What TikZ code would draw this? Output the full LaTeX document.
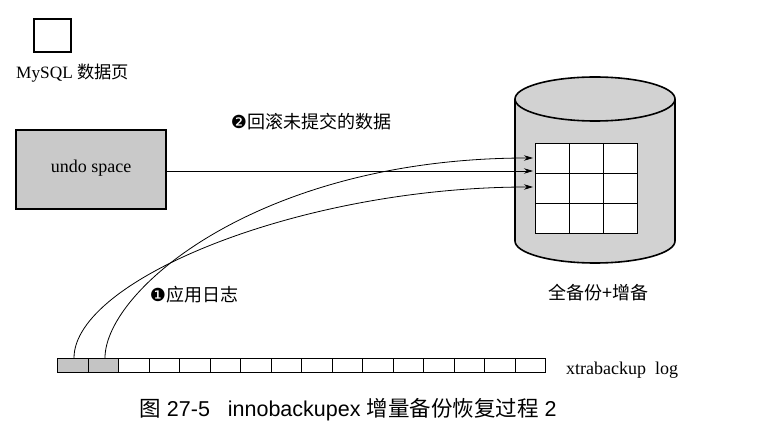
\documentclass[tikz,border=0pt]{standalone}
\usepackage{fontspec}
\setmainfont{Liberation Serif}
\newfontfamily\cjk{Noto Sans CJK SC}
\newfontfamily\sym{DejaVu Sans}
\newfontfamily\capfont{Liberation Sans}
\usetikzlibrary{arrows.meta}
\definecolor{boxgray}{HTML}{C9C9C9}
\definecolor{cylgray}{HTML}{D2D2D2}
\definecolor{cellgray}{HTML}{C4C4C4}
\tikzset{
  lbl/.style={inner sep=0pt, font=\fontsize{18}{20}\selectfont},
  flow/.style={line width=0.8pt, -{Stealth[length=9pt,width=5.5pt]}},
  logcell/.style={draw, line width=1.1pt, minimum width=30.5pt, minimum height=14pt, inner sep=0pt, anchor=north west},
  gcell/.style={draw, line width=0.9pt, fill=white, minimum width=34pt, minimum height=30pt, inner sep=0pt, anchor=north west},
}
\begin{document}
\begin{tikzpicture}[x=1pt,y=-1pt]
\useasboundingbox (0,0) rectangle (759,438);
% legend square
\node[draw, line width=1.5pt, minimum width=37pt, minimum height=33pt, inner sep=0pt] (page) at (52.5,35.5) {};
\node[lbl, anchor=west, font=\fontsize{17.3}{19}\selectfont] (pagelbl) at (16,73) {MySQL {\cjk 数据页}};
% undo space
\node[draw, line width=2pt, fill=boxgray, minimum width=150pt, minimum height=79pt, inner sep=0pt] (undo) at (91,169.5) {};
\node[lbl] (undotxt) at (91,168) {undo space};
% cylinder
\path[fill=cylgray] (515,99) -- (515,241) arc[start angle=180,end angle=360,x radius=80pt,y radius=22pt] -- (675,99) -- cycle;
\draw[line width=1.6pt] (515,99) -- (515,241) arc[start angle=180,end angle=360,x radius=80pt,y radius=22pt] -- (675,99);
\draw[line width=1.6pt, fill=cylgray] (595,99) ellipse[x radius=80pt, y radius=22pt];
% grid
\foreach \r in {0,1,2}{
  \foreach \c in {0,1,2}{
    \node[gcell] (g\r\c) at ({535+34*\c},{143+30*\r}) {};
  }
}
\node[lbl] (cyllbl) at (598,293) {\cjk 全备份+增备};
% log bar
\foreach \i in {0,...,15}{
  \ifnum\i<2
    \node[logcell, fill=cellgray] (l\i) at ({57+30.5*\i},358) {};
  \else
    \node[logcell] (l\i) at ({57+30.5*\i},358) {};
  \fi
}
\node[lbl, anchor=west] (loglbl) at (566,370) {xtrabackup\ \ log};
% connectors
\coordinate (tA) at (533,187);
\coordinate (tB) at (533,158);
\coordinate (tU) at (533,171);
\coordinate (sA) at (74,358);
\coordinate (sB) at (105,358);
\draw[flow] (undo.east |- tU) -- (tU);
\draw[flow] (sA) .. controls (74,280) and (300,187) .. (tA);
\draw[flow] (sB) .. controls (105,290) and (260,158) .. (tB);
% labels
\node[lbl] (step2) at (311,122) {{\sym ❷}{\cjk 回滚未提交的数据}};
\node[lbl] (step1) at (194,295) {{\sym ❶}{\cjk 应用日志}};
% caption
\node[inner sep=0pt, font=\fontsize{21.5}{24}\selectfont] (caption) at (348,410) {{\cjk 图}\capfont\ 27-5\ \ \ innobackupex\ {\cjk 增量备份恢复过程}\ 2};
\end{tikzpicture}
\end{document}
